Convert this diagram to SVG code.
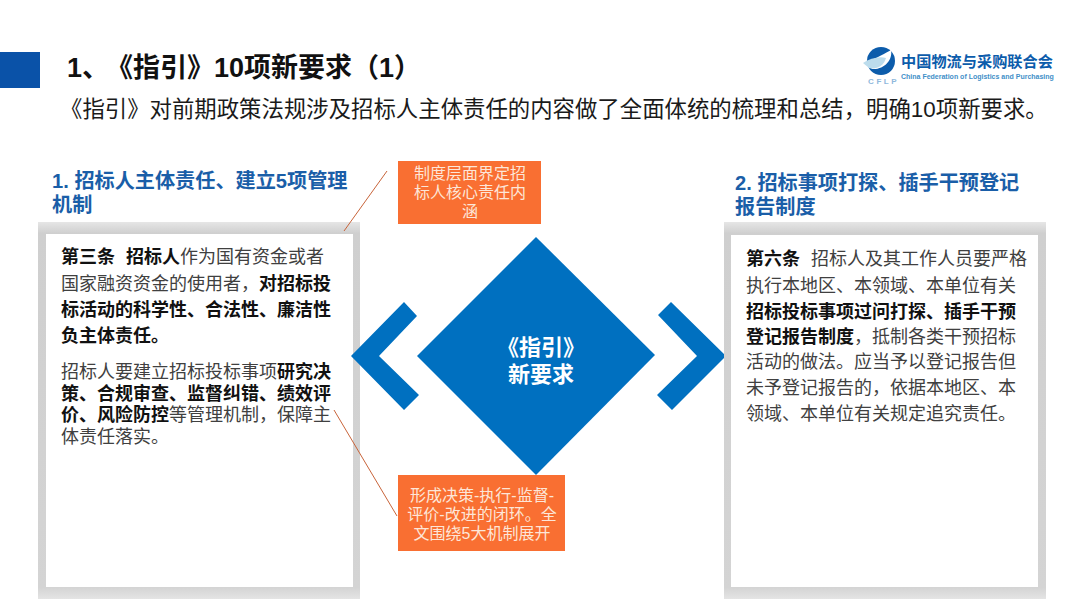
<svg xmlns="http://www.w3.org/2000/svg" width="1080" height="608" viewBox="0 0 1080 608">
<defs>
<linearGradient id="frame" x1="0" y1="0" x2="0" y2="1">
<stop offset="0" stop-color="#e6e6e6"/><stop offset="0.03" stop-color="#cfcfcf"/><stop offset="0.97" stop-color="#d4d4d4"/><stop offset="1" stop-color="#e4e4e4"/>
</linearGradient>
</defs>
<style>
text{font-family:"Liberation Sans","Noto Sans CJK SC",sans-serif}
.b{font-weight:700}
.body{font-size:18px;fill:#404040}
.body .b,.bk{fill:#111}
.hd{font-size:20.15px;font-weight:700;fill:#1a5ea8}
.note{font-size:16px;fill:#fde6d8;text-anchor:middle}
.org{fill:#f96f32}
.frame{fill:url(#frame)}
.inner{fill:#fff}
.blue{fill:#0070c0}
.ln{fill:none;stroke:#c8643a;stroke-width:1}
</style>
<rect width="1080" height="608" fill="#fff"/>
<g id="header">
<rect x="0" y="52" width="40" height="36" fill="#0a52a8"/>
<text x="67" y="77" font-size="27" class="b bk">1、</text>
<text x="106" y="77" font-size="27" class="b bk">《指引》10项新要求（1）</text>
<text x="60" y="117" font-size="22.4" fill="#1a1a1a">《指引》对前期政策法规涉及招标人主体责任的内容做了全面体统的梳理和总结，明确10项新要求。</text>
</g>
<g id="logo">
<circle cx="881" cy="61" r="14" fill="#0c5cab"/>
<path d="M866 63C874 59 888 52 891 50C893 60 884 70 872 69Z" fill="#fff"/>
<path d="M863 63C870 58 880 56 886 58C884 66 876 70 869 68Z" fill="#bcdcec"/>
<text x="868" y="84" font-size="8" font-weight="700" fill="#8fb8dc" letter-spacing="2.6">CFLP</text>
<text x="901" y="67" font-size="15.2" font-weight="700" fill="#0c5cab">中国物流与采购联合会</text>
<text x="901" y="79" font-size="7" font-weight="700" fill="#3f8fc8">China Federation of Logistics and Purchasing</text>
</g>
<g id="left-panel">
<text x="52" y="188" class="hd">1. 招标人主体责任、建立5项管理</text>
<text x="52" y="212" class="hd">机制</text>
<rect class="frame" x="38" y="222" width="322" height="377"/>
<rect class="inner" x="46" y="234" width="307" height="353"/>
<text class="body" x="61" y="263"><tspan class="b">第三条</tspan></text>
<text class="body" x="126" y="263"><tspan class="b">招标人</tspan>作为国有资金或者</text>
<text class="body" x="61" y="290">国家融资资金的使用者，<tspan class="b">对招标投</tspan></text>
<text class="body b bk" x="61" y="316">标活动的科学性、合法性、廉洁性</text>
<text class="body b bk" x="61" y="342">负主体责任。</text>
<text class="body" x="61" y="378">招标人要建立招标投标事项<tspan class="b">研究决</tspan></text>
<text class="body b bk" x="61" y="400">策、合规审查、监督纠错、绩效评</text>
<text class="body" x="61" y="421"><tspan class="b">价、风险防控</tspan>等管理机制，保障主</text>
<text class="body" x="61" y="443">体责任落实。</text>
</g>
<g id="note-top">
<rect class="org" x="398" y="161" width="143" height="63"/>
<text class="note" x="470" y="179">制度层面界定招</text>
<text class="note" x="470" y="198">标人核心责任内</text>
<text class="note" x="470" y="217">涵</text>
</g>
<g id="center">
<path class="blue" d="M536 237L655 355L536 475L417 356Z"/>
<text x="541" y="355" font-size="22" class="b" fill="#fff" text-anchor="middle">《指引》</text>
<text x="541" y="382" font-size="22" class="b" fill="#fff" text-anchor="middle">新要求</text>
</g>
<g id="chevron-left"><path class="blue" d="M404 302L417 316L379 356L419 395L404 410L351 356Z"/></g>
<g id="chevron-right"><path class="blue" d="M671 302L658 315L697 356L657 395L672 410L726 356Z"/></g>
<g id="note-bottom">
<rect class="org" x="398" y="475" width="167" height="76"/>
<text class="note" x="482" y="501">形成决策-执行-监督-</text>
<text class="note" x="482" y="520">评价-改进的闭环。全</text>
<text class="note" x="482" y="539">文围绕5大机制展开</text>
</g>
<g id="right-panel">
<text x="735" y="190" class="hd">2. 招标事项打探、插手干预登记</text>
<text x="735" y="214" class="hd">报告制度</text>
<rect class="frame" x="724" y="222" width="322" height="377"/>
<rect class="inner" x="731" y="235" width="307" height="352"/>
<text class="body" x="746" y="265"><tspan class="b">第六条</tspan></text>
<text class="body" x="811" y="265">招标人及其工作人员要严格</text>
<text class="body" x="746" y="292">执行本地区、本领域、本单位有关</text>
<text class="body b bk" x="746" y="318">招标投标事项过问打探、插手干预</text>
<text class="body" x="746" y="343"><tspan class="b">登记报告制度</tspan>，抵制各类干预招标</text>
<text class="body" x="746" y="368">活动的做法。应当予以登记报告但</text>
<text class="body" x="746" y="394">未予登记报告的，依据本地区、本</text>
<text class="body" x="746" y="420">领域、本单位有关规定追究责任。</text>
</g>
<g id="connectors">
<path class="ln" d="M344 231L387 171"/>
<path class="ln" d="M334 410L397 516"/>
</g>
</svg>
